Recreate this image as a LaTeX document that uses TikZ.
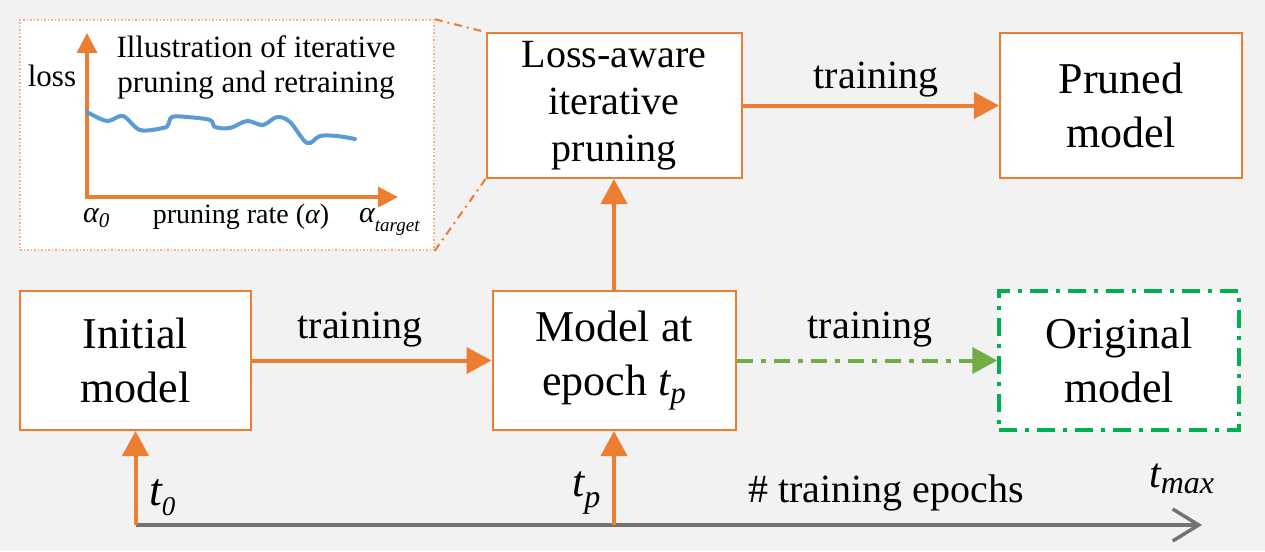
\documentclass[tikz,border=0pt]{standalone}
\usepackage{fontspec}
\setmainfont{Liberation Serif}
\usetikzlibrary{arrows.meta}
\definecolor{bg}{HTML}{F2F2F2}
\definecolor{org}{HTML}{ED7D31}
\definecolor{orglt}{HTML}{F4B183}
\definecolor{grn}{HTML}{70AD47}
\definecolor{grnb}{HTML}{00B050}
\definecolor{blu}{HTML}{5B9BD5}
\definecolor{gry}{HTML}{767171}
\begin{document}
\begin{tikzpicture}[x=1pt,y=-1pt,
  box/.style={draw=org, line width=2pt, fill=white, align=center, inner sep=0pt, font=\fontsize{44}{54}\selectfont},
  arr/.style={draw=org, line width=4pt, -{Triangle[length=25pt,width=26pt]}},
  lbl/.style={font=\fontsize{40}{48}\selectfont, anchor=base, inner sep=0pt},
  small/.style={inner sep=0pt}
 ]
\fill[bg] (0,0) rectangle (1265,551);
\useasboundingbox (0,0) rectangle (1265,551);

% main boxes
\node[box, minimum width=231pt, minimum height=139pt] (init) at (135.5,360.5) {Initial\\model};
\node[box, minimum width=243pt, minimum height=139pt] (mid) at (614,360.5) {Model at\\epoch {\itshape t}\raisebox{-8pt}{\fontsize{31}{31}\selectfont\itshape p}};
\node[box, draw=grnb, line width=3.5pt, dash pattern=on 18pt off 8pt on 4pt off 8pt, minimum width=240pt, minimum height=139pt] (orig) at (1119,360.5) {Original\\model};
\node[box, font=\fontsize{40}{47}\selectfont, minimum width=255pt, minimum height=145pt] (loss) at (614,105.5) {Loss-aware\\iterative\\pruning};
\node[box, minimum width=242pt, minimum height=145pt] (pruned) at (1121,105.5) {Pruned\\model};

% connectors
\draw[arr] (init) -- (mid);
\draw[arr] (loss) -- (pruned);
\draw[arr] (mid) -- (loss);
\draw[draw=grn, line width=4pt, dash pattern=on 16pt off 8pt on 5pt off 8pt, -{Triangle[length=25pt,width=26pt]}] (mid) -- (orig);

\node[lbl] (l1) at (360,338) {training};
\node[lbl] (l2) at (870,338) {training};
\node[lbl] (l3) at (876,88) {training};

% timeline
\coordinate (tl0) at (135.5,525);
\coordinate (tp) at (614,525);
\coordinate (tl1) at (1202,525);
\draw[gry, line width=3.5pt, -{Straight Barb[length=26pt,width=32pt]}] (tl0) -- (tl1);
\draw[arr] (tl0) -- (init.south);
\draw[arr] (tp) -- (mid.south);

\node[small, anchor=base west, font=\fontsize{46}{46}\selectfont\itshape] (lt0) at (149,505) {t\raisebox{-10pt}{\fontsize{27}{27}\selectfont 0}};
\node[small, anchor=base west, font=\fontsize{44}{44}\selectfont\itshape] (ltp) at (572,496) {t\raisebox{-11pt}{\fontsize{32}{32}\selectfont p}};
\node[small, anchor=base west, font=\fontsize{42}{42}\selectfont\itshape] (ltm) at (1149,487) {t\raisebox{-6pt}{\fontsize{32}{32}\selectfont max}};
\node[lbl] (lep) at (886,502) {\# training epochs};

% inset
\node[draw=orglt, line width=1.5pt, dash pattern=on 1.5pt off 2pt, fill=white, minimum width=414pt, minimum height=230pt, inner sep=0pt] (inset) at (227,135) {};
\draw[org, line width=2pt, dash pattern=on 8pt off 5pt on 2pt off 5pt] (inset.north east) -- (loss.north west);
\draw[org, line width=2pt, dash pattern=on 8pt off 5pt on 2pt off 5pt] (inset.south east) -- (loss.south west);

\coordinate (O) at (87,197);
\coordinate (ytip) at (87,33);
\coordinate (xtip) at (398,197);
\draw[org, line width=3.5pt, {Triangle[length=20pt,width=20pt]}-{Triangle[length=20pt,width=20pt]}] (ytip) -- (O) -- (xtip);

\draw[blu, line width=4pt, line cap=round] plot[smooth, tension=0.55] coordinates {
 (87,112) (107,121) (123,116) (140,130) (163,128) (168,125) (172,117) (187,117) (210,120) (215,127) (230,128) (247,121) (263,125) (277,117) (290,122) (307,143) (320,136) (337,136) (355,139)};

\node[small, anchor=base, font=\fontsize{31}{31}\selectfont] (lossl) at (52,86) {loss};
\node[small, anchor=base, font=\fontsize{31}{31}\selectfont] (ti1) at (256,57) {Illustration of iterative};
\node[small, anchor=base, font=\fontsize{31}{31}\selectfont] (ti2) at (256,92) {pruning and retraining};
\node[small, anchor=base west, font=\fontsize{30}{30}\selectfont\itshape] (a0) at (83,222) {α\raisebox{-5pt}{\fontsize{21}{21}\selectfont 0}};
\node[small, anchor=base, font=\fontsize{28}{28}\selectfont] (prr) at (241,223) {pruning rate ({\itshape α})};
\node[small, anchor=base west, font=\fontsize{30}{30}\selectfont\itshape] (at) at (359,222) {α\raisebox{-9pt}{\fontsize{19}{19}\selectfont target}};
\end{tikzpicture}
\end{document}
